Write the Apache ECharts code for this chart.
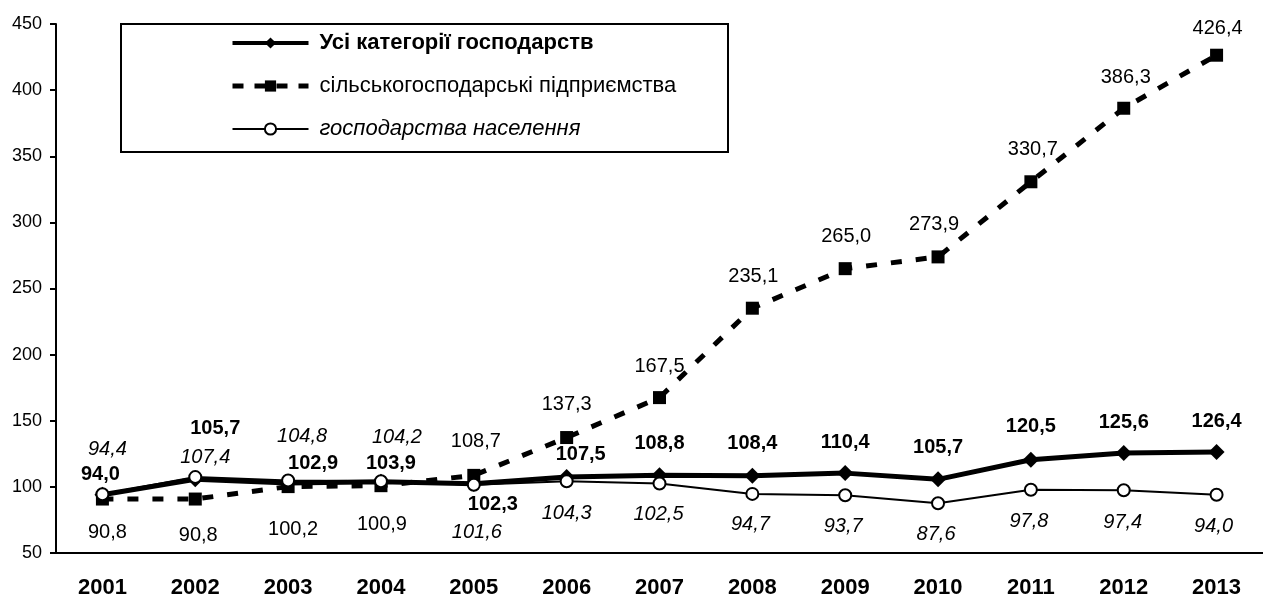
<!DOCTYPE html>
<html>
<head>
<meta charset="utf-8">
<script src="https://cdn.jsdelivr.net/npm/echarts@6/dist/echarts.min.js"></script>
<style>
  html, body { margin: 0; padding: 0; background: #fff; }
  #chart { width: 1263px; height: 599px; }
</style>
</head>
<body>
<div id="chart"></div>
<script>
// роки
const years = ['2001', '2002', '2003', '2004', '2005', '2006', '2007',
  '2008', '2009', '2010', '2011', '2012', '2013'];

// індекси, %
const allFarms = [94.0, 105.7, 102.9, 103.9, 102.3, 107.5, 108.8, 108.4, 110.4, 105.7, 120.5, 125.6, 126.4];
const agriEnterprises = [90.8, 90.8, 100.2, 100.9, 108.7, 137.3, 167.5, 235.1, 265.0, 273.9, 330.7, 386.3, 426.4];
const households = [94.4, 107.4, 104.8, 104.2, 101.6, 104.3, 102.5, 94.7, 93.7, 87.6, 97.8, 97.4, 94.0];

const yTicks = { min: 50, max: 450, step: 50 };

// зсуви підписів відносно точок (px)
const allLabelShift = [[-2, -20], [20, -51], [25, -20], [10, -18], [19, 21], [14, -22], [0, -32],
  [0, -32], [0, -31], [0, -32], [0, -33], [0, -31], [0, -30]];
const agriLabelShift = [[5, 33], [3, 36], [5, 43], [1, 39], [2, -34], [0, -33], [0, -31],
  [1, -32], [1, -32], [-4, -32], [2, -32], [2, -31], [1, -27]];
const houseLabelShift = [[5, -45], [10, -20], [14, -44], [16, -44], [3, 48], [0, 32], [-1, 31],
  [-2, 31], [-2, 31], [-2, 31], [-2, 32], [-1, 32], [-3, 32]];

const font = '"Liberation Sans", Arial, sans-serif';
const fmt = p => p.value.toFixed(1).replace('.', ',');

const nameAll = 'Усі категорії господарств';
const nameAgri = 'сільськогосподарські підприємства';
const nameHouse = 'господарства населення';

function withLabels(values, shifts) {
  return values.map((v, i) => ({ value: v, label: { offset: shifts[i] } }));
}

let chart = echarts.init(document.getElementById('chart'));

chart.setOption({
  animation: false,
  backgroundColor: '#fff',
  textStyle: { fontFamily: font, color: '#000' },
  grid: { left: 56, right: 0, top: 24, bottom: 46 },
  graphic: [{
    type: 'rect',
    z: 0,
    shape: { x: 121, y: 24, width: 607, height: 128 },
    style: { fill: '#fff', stroke: '#000', lineWidth: 2 }
  }],
  legend: {
    orient: 'vertical',
    left: 230,
    top: 32,
    itemWidth: 76,
    itemHeight: 14,
    itemGap: 21,
    padding: 0,
    selectedMode: false,
    textStyle: {
      fontFamily: font,
      fontSize: 22,
      color: '#000',
      padding: [0, 0, 0, 6],
      rich: {
        b: { fontWeight: 'bold', fontSize: 22, lineHeight: 23, fontFamily: font },
        n: { fontSize: 22, lineHeight: 23, fontFamily: font },
        i: { fontStyle: 'italic', fontSize: 22, lineHeight: 23, fontFamily: font }
      }
    },
    formatter: name => {
      if (name === nameAll) return '{b|' + name + '}';
      if (name === nameHouse) return '{i|' + name + '}';
      return '{n|' + name + '}';
    },
    data: [
      { name: nameAll, lineStyle: { width: 4 } },
      { name: nameAgri, lineStyle: { width: 5, type: [11, 11] } },
      { name: nameHouse, lineStyle: { width: 2 } }
    ]
  },
  xAxis: {
    type: 'category',
    data: years,
    axisLine: { lineStyle: { color: '#000', width: 2 } },
    axisTick: { length: 6, lineStyle: { color: '#000', width: 2 } },
    axisLabel: { color: '#000', fontSize: 22, fontWeight: 'bold', margin: 24, fontFamily: font }
  },
  yAxis: {
    type: 'value',
    min: yTicks.min,
    max: yTicks.max,
    interval: yTicks.step,
    splitLine: { show: false },
    axisLine: { show: true, lineStyle: { color: '#000', width: 2 } },
    axisTick: { show: true, length: 6, lineStyle: { color: '#000', width: 2 } },
    axisLabel: { color: '#000', fontSize: 18, margin: 14, fontFamily: font }
  },
  series: [
    {
      name: nameAgri,
      type: 'line',
      z: 2,
      data: withLabels(agriEnterprises, agriLabelShift),
      symbol: 'rect',
      symbolSize: 13,
      lineStyle: { color: '#000', width: 5, type: [11, 14] },
      itemStyle: { color: '#000' },
      label: { show: true, position: 'inside', formatter: fmt, fontSize: 20, color: '#000', fontFamily: font }
    },
    {
      name: nameAll,
      type: 'line',
      z: 3,
      data: withLabels(allFarms, allLabelShift),
      symbol: 'diamond',
      symbolSize: 16,
      lineStyle: { color: '#000', width: 5 },
      itemStyle: { color: '#000' },
      label: { show: true, position: 'inside', formatter: fmt, fontSize: 20, fontWeight: 'bold', color: '#000', fontFamily: font }
    },
    {
      name: nameHouse,
      type: 'line',
      z: 4,
      data: withLabels(households, houseLabelShift),
      symbol: 'circle',
      symbolSize: 12,
      showAllSymbol: true,
      lineStyle: { color: '#000', width: 2 },
      itemStyle: { color: '#fff', borderColor: '#000', borderWidth: 2 },
      label: { show: true, position: 'inside', formatter: fmt, fontSize: 20, fontStyle: 'italic', color: '#000', fontFamily: font }
    }
  ]
});
</script>
</body>
</html>
